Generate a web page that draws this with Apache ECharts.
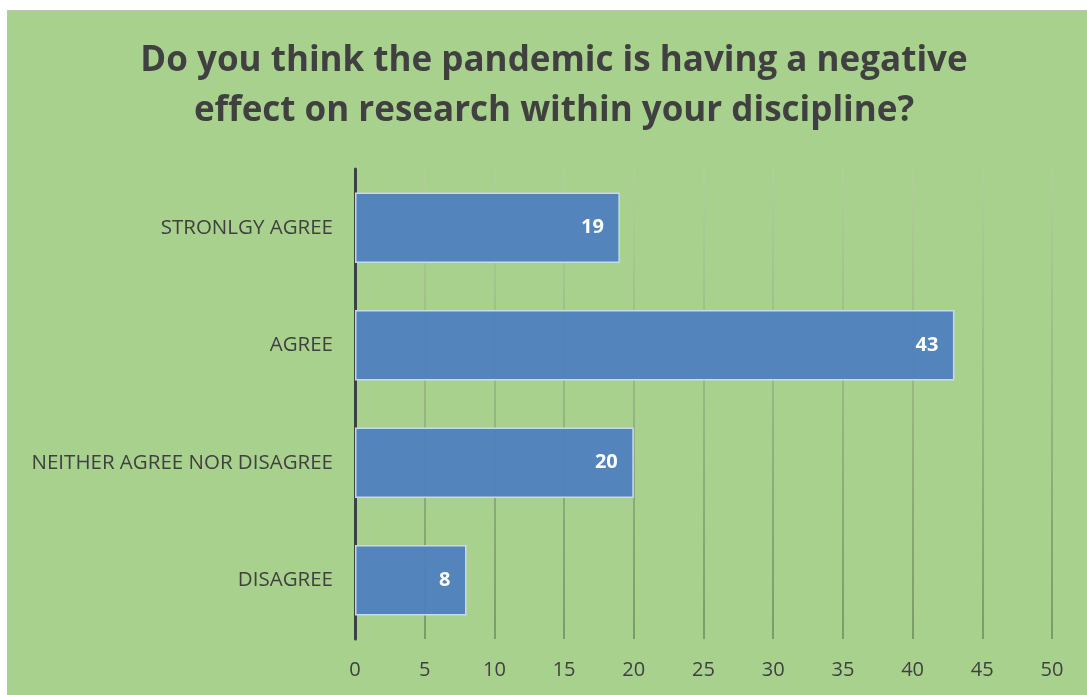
<!DOCTYPE html>
<html><head><meta charset="utf-8">
<script src="https://cdn.jsdelivr.net/npm/echarts@6/dist/echarts.min.js"></script>
<style>html,body{margin:0;padding:0;background:#fff;}#bg{position:absolute;left:7px;top:10px;width:1090px;height:700px;background:#a9d18e;border:1.5px solid #bfbfbf;box-sizing:border-box;}#c{position:absolute;left:0;top:0;width:1087px;height:695px;}</style>
</head><body><div id="bg"></div><div id="c"></div>
<script>
var categories = ['STRONLGY AGREE', 'AGREE', 'NEITHER AGREE NOR DISAGREE', 'DISAGREE'];
var values = [19, 43, 20, 8];
var titleText = 'Do you think the pandemic is having a negative\neffect on research within your discipline?';
var chart = echarts.init(document.getElementById('c'));
var gridGrad = new echarts.graphic.LinearGradient(0, 169, 0, 639, [
  {offset: 0, color: '#b3cf9c'}, {offset: 1, color: '#6c8a5e'}], true);
chart.setOption({
  backgroundColor: 'transparent',
  title: {text: titleText, left: 549, textAlign: 'center', top: 31,
    textStyle: {fontFamily: 'Open Sans', fontWeight: 'bold', fontSize: 35, color: '#404040', lineHeight: 50}},
  grid: {left: 355, right: 35, top: 169, bottom: 56},
  xAxis: {type: 'value', min: 0, max: 50, interval: 5,
    axisLine: {show: false}, axisTick: {show: false},
    axisLabel: {color: '#404040', fontSize: 20, fontFamily: 'Open Sans', margin: 21},
    splitLine: {show: true, lineStyle: {color: gridGrad, width: 1.5}}},
  yAxis: {type: 'category', data: categories, inverse: true,
    axisLine: {show: true, lineStyle: {color: '#404040', width: 3}},
    axisTick: {show: false},
    axisLabel: {color: '#404040', fontSize: 20.5, fontFamily: 'Open Sans', margin: 22}},
  series: [{type: 'bar', data: values, barCategoryGap: '40%',
    itemStyle: {color: 'rgba(78,126,190,0.94)', borderColor: '#c9d9ec', borderWidth: 1.5},
    z: 1,
    label: {show: true, position: 'insideRight', distance: 16, color: '#fff', fontWeight: 'bold', fontSize: 20, fontFamily: 'Open Sans'}}]
});
</script></body></html>
